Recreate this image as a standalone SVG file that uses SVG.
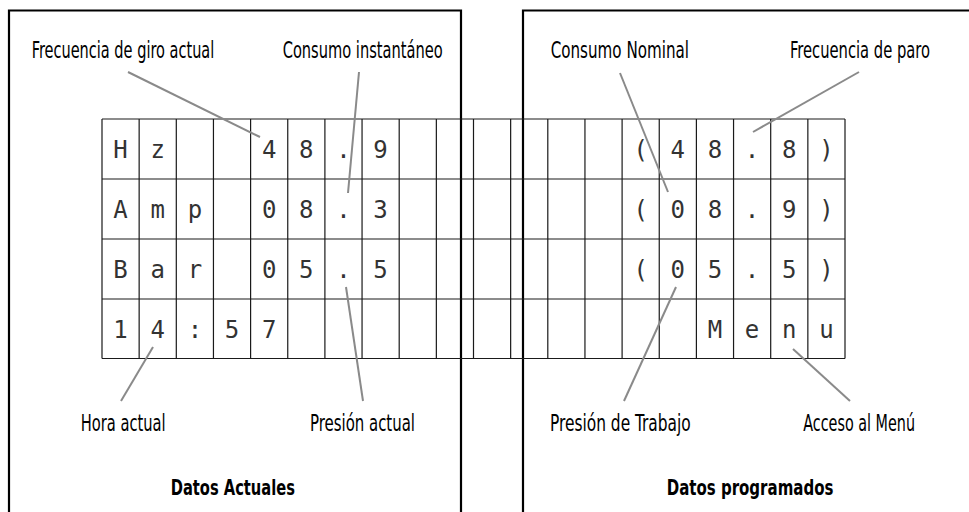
<svg xmlns="http://www.w3.org/2000/svg" width="969" height="512" viewBox="0 0 969 512">
<style>
.frame{fill:none;stroke:#000;stroke-width:2.2}
.grid{stroke:#1a1a1a;stroke-width:1.2;fill:none}
.lead{stroke:#8a8a8a;stroke-width:2;stroke-linecap:butt}
.lbl{font-family:"Liberation Sans Narrow","DejaVu Sans Condensed","Liberation Sans",sans-serif;font-stretch:condensed;font-size:23px;fill:#000}
.ttl{font-family:"Liberation Sans Narrow","DejaVu Sans Condensed","Liberation Sans",sans-serif;font-stretch:condensed;font-size:21px;font-weight:bold;fill:#000}
.lcd{font-family:"DejaVu Sans Mono","Liberation Mono",monospace;font-size:24px;fill:#333;text-anchor:middle}
</style>
<rect width="969" height="512" fill="#fff"/>
<g id="frames">
<path class="frame" d="M9,520 V10.5 H461 V520"/>
<path class="frame" d="M523,520 V10.5 H975"/>
</g>
<g id="lcd-grid">
<path class="grid" d="M102,119 H845 M102,179 H845 M102,239 H845 M102,299 H845 M102,358.5 H845"/>
<path class="grid" d="M102,119V358.5 M139.15,119V358.5 M176.3,119V358.5 M213.45,119V358.5 M250.6,119V358.5 M287.75,119V358.5 M324.9,119V358.5 M362.05,119V358.5 M399.2,119V358.5 M436.35,119V358.5 M473.5,119V358.5 M510.65,119V358.5 M547.8,119V358.5 M584.95,119V358.5 M622.1,119V358.5 M659.25,119V358.5 M696.4,119V358.5 M733.55,119V358.5 M770.7,119V358.5 M807.85,119V358.5 M845,119V358.5"/>
</g>
<g id="lcd-text" class="lcd">
<text x="120.6" y="158">H</text><text x="157.7" y="158">z</text>
<text x="269.2" y="158">4</text><text x="306.3" y="158">8</text><text x="343.5" y="158">.</text><text x="380.6" y="158">9</text>
<text x="640.7" y="158">(</text><text x="677.8" y="158">4</text><text x="715" y="158">8</text><text x="752.1" y="158">.</text><text x="789.3" y="158">8</text><text x="826.4" y="158">)</text>
<text x="120.6" y="218">A</text><text x="157.7" y="218">m</text><text x="194.9" y="218">p</text>
<text x="269.2" y="218">0</text><text x="306.3" y="218">8</text><text x="343.5" y="218">.</text><text x="380.6" y="218">3</text>
<text x="640.7" y="218">(</text><text x="677.8" y="218">0</text><text x="715" y="218">8</text><text x="752.1" y="218">.</text><text x="789.3" y="218">9</text><text x="826.4" y="218">)</text>
<text x="120.6" y="278">B</text><text x="157.7" y="278">a</text><text x="194.9" y="278">r</text>
<text x="269.2" y="278">0</text><text x="306.3" y="278">5</text><text x="343.5" y="278">.</text><text x="380.6" y="278">5</text>
<text x="640.7" y="278">(</text><text x="677.8" y="278">0</text><text x="715" y="278">5</text><text x="752.1" y="278">.</text><text x="789.3" y="278">5</text><text x="826.4" y="278">)</text>
<text x="120.6" y="338">1</text><text x="157.7" y="338">4</text><text x="194.9" y="338">:</text><text x="232" y="338">5</text><text x="269.2" y="338">7</text>
<text x="715" y="338">M</text><text x="752.1" y="338">e</text><text x="789.3" y="338">n</text><text x="826.4" y="338">u</text>
</g>
<g id="connectors">
<line class="lead" x1="128" y1="72" x2="260" y2="137"/>
<line class="lead" x1="359" y1="72" x2="348" y2="193"/>
<line class="lead" x1="620" y1="73" x2="668" y2="192"/>
<line class="lead" x1="859" y1="72" x2="753" y2="132"/>
<line class="lead" x1="153" y1="347" x2="121" y2="401"/>
<line class="lead" x1="346" y1="287" x2="363" y2="401"/>
<line class="lead" x1="676" y1="287" x2="624" y2="401"/>
<line class="lead" x1="793" y1="349" x2="850" y2="401"/>
</g>
<g id="label-frecuencia-giro"><text class="lbl" x="31.7" y="58" textLength="182.6" lengthAdjust="spacingAndGlyphs">Frecuencia de giro actual</text></g>
<g id="label-consumo-inst"><text class="lbl" x="282.7" y="58" textLength="160" lengthAdjust="spacingAndGlyphs">Consumo instantáneo</text></g>
<g id="label-consumo-nominal"><text class="lbl" x="550.7" y="58" textLength="138.3" lengthAdjust="spacingAndGlyphs">Consumo Nominal</text></g>
<g id="label-frecuencia-paro"><text class="lbl" x="790" y="58" textLength="140" lengthAdjust="spacingAndGlyphs">Frecuencia de paro</text></g>
<g id="label-hora"><text class="lbl" x="80.7" y="431" textLength="85" lengthAdjust="spacingAndGlyphs">Hora actual</text></g>
<g id="label-presion-actual"><text class="lbl" x="310" y="431" textLength="105" lengthAdjust="spacingAndGlyphs">Presión actual</text></g>
<g id="label-presion-trabajo"><text class="lbl" x="550" y="431" textLength="140.7" lengthAdjust="spacingAndGlyphs">Presión de Trabajo</text></g>
<g id="label-acceso-menu"><text class="lbl" x="803.3" y="431" textLength="111.7" lengthAdjust="spacingAndGlyphs">Acceso al Menú</text></g>
<g id="title-actuales"><text class="ttl" x="170.7" y="495" textLength="124.3" lengthAdjust="spacingAndGlyphs">Datos Actuales</text></g>
<g id="title-programados"><text class="ttl" x="666.7" y="495" textLength="166.7" lengthAdjust="spacingAndGlyphs">Datos programados</text></g>
</svg>
